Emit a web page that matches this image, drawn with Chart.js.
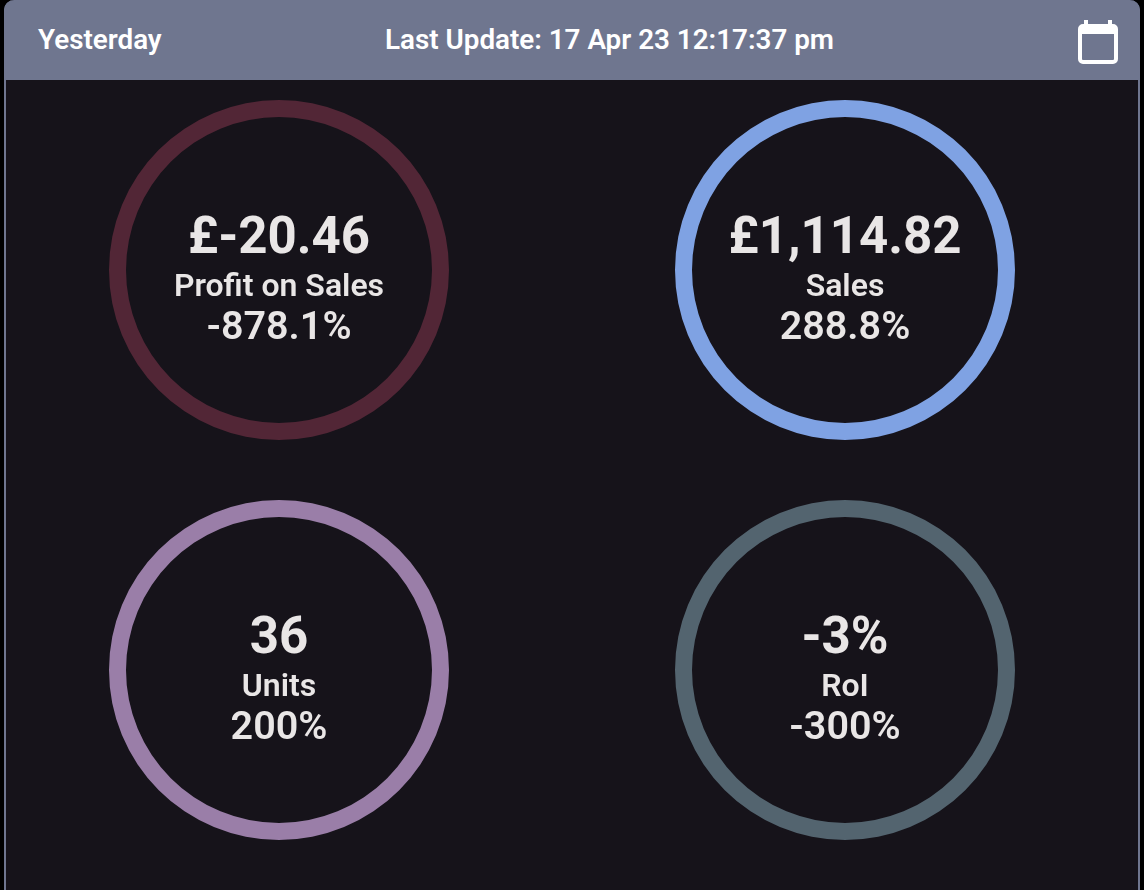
<!DOCTYPE html>
<html>
<head>
<meta charset="utf-8">
<title>Yesterday</title>
<script src="https://cdn.jsdelivr.net/npm/chart.js@4/dist/chart.umd.min.js"></script>
<style>
  html, body { margin: 0; height: 100%; background: #000; overflow: hidden; }
  body { font-family: Roboto, sans-serif; }
  .card { position: absolute; left: 4px; top: 0; width: 1136px; height: 890px; background: #16131a; border-left: 2px solid #6f768f; border-right: 2px solid #6f768f; box-sizing: border-box; border-radius: 10px 10px 0 0; }
  .head { position: absolute; left: 4px; top: 0; width: 1136px; height: 80px; background: #6f768f; border-radius: 10px 10px 0 0; color: #fff; font-size: 27.8px; font-weight: 600; }
  .head span { position: absolute; top: 25px; line-height: 30px; white-space: nowrap; }
  #period { left: 34px; }
  #update { left: 381px; }
  .head svg { position: absolute; left: 1074px; top: 20px; }
  .ring { position: absolute; width: 340px; height: 340px; }
  .ring canvas { position: absolute; left: 0; top: 0; }
  .text { position: absolute; left: 0; top: 0; width: 340px; text-align: center; color: #e9e6e6; white-space: nowrap; }
  .big { position: absolute; left: 0; width: 100%; top: 106px; line-height: 60px; font-size: 51px; font-weight: 700; }
  .name { position: absolute; left: 0; width: 100%; top: 167px; line-height: 36px; font-size: 32px; font-weight: 600; }
  .pct { position: absolute; left: 0; width: 100%; top: 204px; line-height: 44px; font-size: 39.5px; font-weight: 600; }
</style>
</head>
<body>
<div class="card"></div>
<div class="head">
  <span id="period"></span>
  <span id="update"></span>
  <svg width="40" height="46" viewBox="0 0 40 46">
    <rect x="6" y="0" width="4" height="6" fill="#fff"/>
    <rect x="30" y="0" width="4" height="6" fill="#fff"/>
    <rect x="2" y="6" width="36" height="36" rx="3" fill="none" stroke="#fff" stroke-width="4"/>
    <rect x="2" y="6" width="36" height="8" fill="#fff"/>
  </svg>
</div>
<div id="rings"></div>

<script>
const period = "Yesterday";
const lastUpdate = "Last Update: 17 Apr 23 12:17:37 pm";

const names = ["Profit on Sales", "Sales", "Units", "RoI"];
const amounts = ["£-20.46", "£1,114.82", "36", "-3%"];
const changes = ["-878.1%", "288.8%", "200%", "-300%"];
// every ring is closed all the way round
const ringValues = [100, 100, 100, 100];
const colors = ["#522636", "#7fa2e3", "#9a7ea8", "#53646f"];
const lefts = [109, 675, 109, 675];
const tops = [100, 100, 500, 500];

document.querySelector("#period").textContent = period;
document.querySelector("#update").textContent = lastUpdate;

const rings = document.querySelector("#rings");

names.forEach((name, i) => {
  const box = document.createElement("div");
  box.className = "ring";
  box.style.left = lefts[i] + "px";
  box.style.top = tops[i] + "px";

  const canvas = document.createElement("canvas");
  canvas.width = 340;
  canvas.height = 340;
  box.appendChild(canvas);

  const text = document.createElement("div");
  text.className = "text";
  [["big", amounts[i]], ["name", name], ["pct", changes[i]]].forEach(([cls, str]) => {
    const el = document.createElement("div");
    el.className = cls;
    el.textContent = str;
    text.appendChild(el);
  });
  box.appendChild(text);
  rings.appendChild(box);

  new Chart(canvas, {
    type: "doughnut",
    data: {
      labels: [name],
      datasets: [
        {
          data: [ringValues[i]],
          backgroundColor: [colors[i]],
          borderWidth: 0,
        },
      ],
    },
    options: {
      responsive: false,
      animation: false,
      cutout: "90%",
      plugins: {
        legend: { display: false },
        tooltip: { enabled: false },
      },
    },
  });
});
</script>
</body>
</html>
